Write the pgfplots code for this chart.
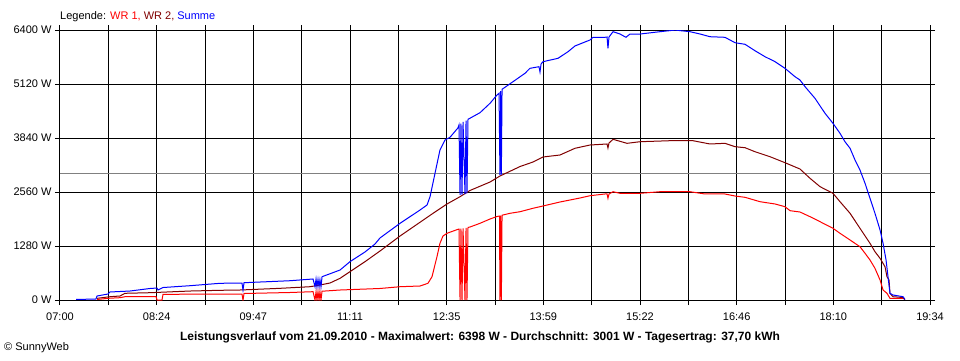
\documentclass[border=0pt]{standalone}
\usepackage{pgfplots}
\pgfplotsset{compat=1.18}
\usepackage{fontspec}
\setmainfont{Liberation Sans}
\definecolor{wrone}{RGB}{255,0,0}
\definecolor{wrtwo}{RGB}{128,0,0}
\definecolor{summe}{RGB}{0,0,255}
\definecolor{avg}{RGB}{128,128,128}
\begin{document}
\begin{tikzpicture}[x=1pt,y=1pt]
\path[use as bounding box] (-60,-60) rectangle (900,300);
\begin{axis}[
  at={(0,0)}, anchor=south west,
  scale only axis, width=870pt, height=270pt,
  xmin=0, xmax=754, ymin=0, ymax=6400,
  xtick={0,41.889,83.778,125.667,167.556,209.444,251.333,293.222,335.111,377,418.889,460.778,502.667,544.556,586.444,628.333,670.222,712.111,754},
  xticklabels={07:00,,08:24,,09:47,,11:11,,12:35,,13:59,,15:22,,16:46,,18:10,,19:34},
  ytick={0,1280,2560,3840,5120,6400},
  yticklabels={0 W,1280 W,2560 W,3840 W,5120 W,6400 W},
  grid=major, major grid style={black, line width=1pt},
  axis line style={black, line width=1pt},
  tick align=outside, major tick length=5pt,
  tick style={black, line width=1pt},
  ticklabel style={font=\fontsize{11}{13}\selectfont},
  xticklabel style={yshift=-4pt},
  every axis plot/.append style={line width=1pt, no markers, sharp plot},
]
\addplot[avg] coordinates {(0,3001) (754,3001)};
% WR 1
\addplot[wrone] coordinates {
(32.1,12)(41.6,40)(52.0,55)(56.3,78)(83.2,83)(84.1,0)(88.4,0)(89.3,135)
(157.7,142)(158.6,0)(159.5,154)(199.3,178)(219.3,197)
(221.0,0)(221.9,197)(222.7,0)(223.6,197)(224.5,0)(225.3,200)(226.2,0)(227.1,210)
(229.7,213)(242.7,237)(277.3,273)(294.7,315)(312.0,332)(318.9,396)(322.4,552)
(326.7,1026)(329.3,1344)(331.9,1517)(335.4,1581)(344.9,1676)
(345.8,1680)(346.7,0)(347.5,1690)(348.4,0)(349.3,1700)(351.0,0)(351.9,1710)(352.7,0)(353.6,1720)
(355.3,1730)(364.0,1818)(372.7,1920)(378.7,1979)
(380.9,1990)(381.3,0)(381.9,2000)(382.5,0)(383.1,2010)
(390.0,2055)(398.7,2093)(409.9,2174)(416.0,2212)(433.3,2323)(450.7,2418)(459.3,2472)
(472.3,2513)(474.1,2513)(474.9,2411)(475.8,2513)(479.3,2567)(485.3,2529)(502.7,2529)
(520.0,2567)(546.0,2567)(559.0,2513)(576.3,2513)(585.0,2465)(593.7,2434)(606.7,2330)
(619.7,2276)(628.3,2212)(632.7,2117)(641.3,2086)(650.0,1975)(658.7,1856)(669.9,1700)
(676.0,1581)(684.7,1422)(693.3,1263)(697.7,1107)(702.0,948)(706.3,751)(710.7,474)
(713.3,237)(716.7,159)(719.3,40)(730.6,40)(732.3,12)
};
% WR 2
\addplot[wrtwo] coordinates {
(32.1,40)(43.3,78)(52.0,95)(56.3,159)(78.0,173)(86.7,183)(112.7,213)(138.7,230)
(156.0,237)(190.7,277)(216.7,315)(225.3,356)(234.0,403)(242.7,514)(251.3,671)
(264.3,908)(277.3,1161)(286.0,1339)(294.7,1517)(323.3,2055)(335.4,2276)(346.7,2449)
(355.3,2596)(372.7,2797)(381.3,2939)(398.7,3164)(409.9,3271)(418.6,3390)(433.3,3437)
(446.3,3596)(459.3,3674)(474.1,3698)(474.9,3603)(475.8,3722)(479.3,3809)(491.4,3714)
(502.7,3752)(528.7,3776)(548.6,3776)(563.3,3698)(576.3,3714)(585.0,3634)(593.7,3610)
(602.3,3515)(615.3,3397)(628.3,3255)(641.3,3105)(650.0,2885)(658.7,2686)(669.9,2529)
(676.0,2330)(684.7,2055)(693.3,1700)(702.0,1344)(706.3,1145)(710.7,988)(715.0,789)
(716.7,552)(718.5,474)(719.3,159)(721.9,78)(730.6,59)(732.3,12)
};
% Summe
\addplot[summe] coordinates {
(13.9,12)(31.2,24)(32.1,95)(41.6,142)(43.3,190)(60.7,213)(78.0,273)(84.1,284)(84.9,237)
(89.3,296)(112.7,339)(138.7,396)(157.7,403)(158.6,237)(159.5,410)(199.3,457)(219.3,498)
(221.0,315)(221.9,498)(222.7,315)(223.6,490)(224.5,315)(225.3,480)(226.2,315)(227.1,552)
(242.7,711)(251.3,908)(264.3,1138)(273.0,1327)(277.3,1470)(294.7,1818)(312.0,2133)
(318.1,2252)(320.7,2449)(325.0,3003)(329.3,3556)(333.7,3793)(338.0,3857)(344.9,4080)
(345.8,4150)(346.7,2490)(347.5,4180)(348.4,2500)(349.3,4220)(351.0,2510)(351.9,4250)(352.7,2530)(353.6,4283)
(364.0,4440)(372.7,4663)(378.7,4859)
(380.5,4900)(381.3,2965)(381.9,4950)(382.5,2970)(383.1,4994)
(392.6,5175)(403.0,5374)(407.3,5492)(415.1,5530)(416.0,5404)(416.9,5594)(418.6,5649)
(431.6,5729)(440.3,5886)(446.3,6021)(459.3,6163)(461.9,6227)(472.3,6227)(474.1,6234)
(474.9,5966)(475.8,6234)(479.3,6360)(485.3,6305)(490.5,6227)(494.0,6305)(502.7,6305)
(520.0,6360)(533.0,6398)(546.0,6360)(554.7,6305)(563.3,6241)(576.3,6227)(585.0,6099)(593.7,6061)
(602.3,5909)(611.0,5767)(619.7,5649)(628.3,5492)(637.0,5293)(641.3,5215)(645.7,5056)
(654.3,4781)(663.0,4426)(669.9,4188)(676.0,3951)(680.3,3752)(684.7,3596)(689.0,3319)
(693.3,3081)(697.7,2766)(702.0,2411)(706.3,2055)(710.7,1659)(713.3,1344)(715.9,948)
(717.6,552)(719.3,159)(721.9,119)(730.6,78)(732.3,12)
};
\end{axis}
\node[anchor=west, inner sep=0pt, font=\fontsize{11}{13}\selectfont] at (0,283)
  {Legende: \textcolor{wrone}{WR 1,} \textcolor{wrtwo}{WR 2,} \textcolor{summe}{Summe}};
\node[inner sep=0pt, font=\bfseries\fontsize{12}{14}\selectfont] at (420,-37)
  {Leistungsverlauf vom 21.09.2010 - Maximalwert: 6398 W - Durchschnitt: 3001 W - Tagesertrag: 37,70 kWh};
\node[anchor=west, inner sep=0pt, font=\fontsize{11}{13}\selectfont] at (-56,-48) {© SunnyWeb};
\end{tikzpicture}
\end{document}
